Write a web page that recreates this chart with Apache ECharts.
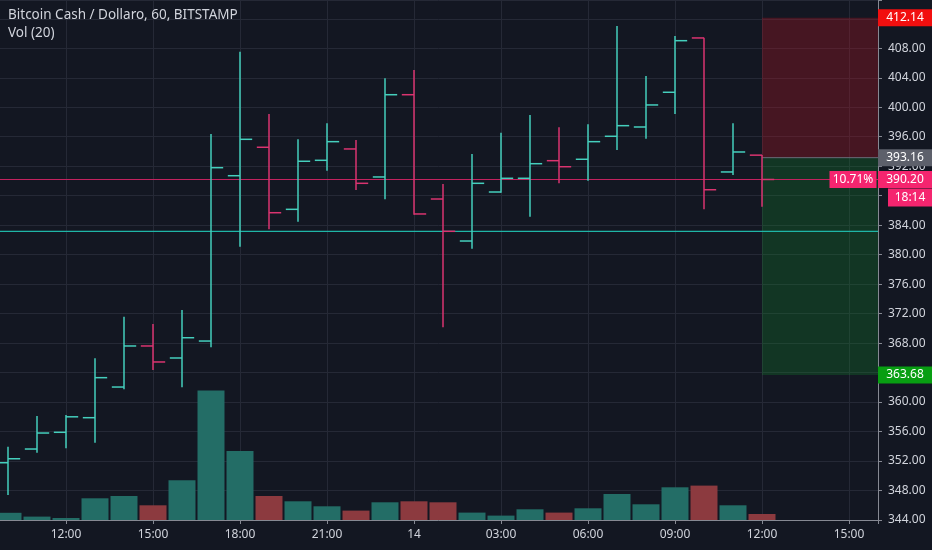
<!DOCTYPE html>
<html>
<head>
<meta charset="utf-8">
<script src="https://cdn.jsdelivr.net/npm/echarts/dist/echarts.min.js"></script>
<style>
  html, body { margin: 0; padding: 0; background: #131722; }
  #chart { width: 932px; height: 550px; }
</style>
</head>
<body>
<div id="chart"></div>
<script>
// Hours counted from 00:00 of the 13th (bar timestamps, 60-minute bars)
const hours  = [10,11,12,13,14,15,16,17,18,19,20,21,22,23,24,25,26,27,28,29,30,31,32,33,34,35,36];
const opens  = [351.77,353.63,355.90,357.88,362.04,367.61,365.98,368.28,390.71,394.57,386.15,392.80,394.34,390.54,401.70,387.55,381.85,388.50,390.36,392.75,392.94,396.06,397.32,402.03,409.40,391.22,393.50];
const highs  = [353.94,358.11,358.24,365.94,371.58,370.59,372.49,396.37,407.54,399.09,395.65,397.82,395.56,403.93,405.06,389.59,393.66,396.55,398.95,397.28,397.69,411.03,404.24,409.67,409.44,397.82,393.52];
const lows   = [347.39,353.13,353.73,354.49,361.73,364.35,362.00,367.43,381.08,383.44,384.47,391.39,388.77,387.51,385.40,370.14,380.81,388.41,385.15,389.68,390.04,394.20,395.73,399.09,386.15,390.81,386.51];
const closes = [352.31,355.80,358.00,363.31,367.61,365.44,368.73,391.80,395.65,385.69,392.67,395.33,389.68,401.70,385.52,383.17,389.68,390.36,392.34,391.93,395.33,397.50,400.31,409.03,388.81,393.93,390.20];
const volumes = [72,34,20,217,240,147,397,1294,690,240,187,137,94,177,187,177,74,44,107,74,117,260,157,327,344,147,60];

const startDay = 13;
const stopPrice = 412.14;
const entryPrice = 393.16;
const targetPrice = 363.68;
const lastPrice = 390.20;
const levelLine = 383.17;
const positionStart = 36;
const pctText = '10.71%';
const countdownText = '18:14';
const titleText = 'Bitcoin Cash / Dollaro, 60, BITSTAMP';
const subText = 'Vol (20)';

const UP = '#45cfbd';
const DOWN = '#da3470';
const VUP = '#236d66';
const VDOWN = '#8c3a3f';
const TXT = '#d1d4dc';
const GRID = '#252936';
const AXIS = '#868993';

const xMin = 9, xMax = 40;

const ohlc = hours.map((h, i) => [h, opens[i], closes[i], lows[i], highs[i]]);
const vol = hours.map((h, i) => ({
  value: [h, volumes[i]],
  itemStyle: { color: closes[i] >= opens[i] ? VUP : VDOWN }
}));

function fmtHour(v) {
  if (v % 3 !== 0 || v >= xMax) return '';
  const hod = v % 24;
  if (hod === 0) return String(startDay + Math.floor(v / 24));
  return (hod < 10 ? '0' : '') + hod + ':00';
}

function priceTag(price, text, color, size, offset) {
  return {
    coord: [xMax, price],
    symbol: 'rect',
    symbolSize: size,
    symbolOffset: offset,
    itemStyle: { color: color },
    label: { show: true, position: 'inside', formatter: text, color: '#ffffff', fontSize: 12 }
  };
}

// horizontal level drawn as a two-point line series
function levelSeries(price, x0, color, width) {
  return {
    type: 'line', z: 2, silent: true, showSymbol: false, symbol: 'none',
    data: [[x0, price], [xMax, price]],
    lineStyle: { color: color, width: width, type: 'solid' },
    itemStyle: { color: color },
    emphasis: { disabled: true }
  };
}

const chart = echarts.init(document.getElementById('chart'));
chart.setOption({
  backgroundColor: '#131722',
  animation: false,
  textStyle: { fontFamily: 'Noto Sans, sans-serif' },
  title: {
    text: titleText,
    subtext: subText,
    left: 8, top: 8, padding: 0, itemGap: 4,
    textStyle: { fontSize: 13.5, fontWeight: 'normal', color: TXT },
    subtextStyle: { fontSize: 13.5, color: TXT }
  },
  grid: { left: -21, right: 54, top: 0, bottom: 30, containLabel: false, outerBoundsMode: 'none' },
  xAxis: {
    type: 'value', min: xMin, max: xMax, interval: 3,
    axisLine: { show: true, lineStyle: { color: AXIS } },
    axisTick: { show: true, length: 4, lineStyle: { color: AXIS } },
    axisLabel: { color: TXT, fontSize: 12, margin: 9, formatter: fmtHour },
    splitLine: { show: true, lineStyle: { color: GRID } }
  },
  yAxis: [
    {
      type: 'value', position: 'right', min: 344, max: 414.55, interval: 4,
      axisLine: { show: true, lineStyle: { color: AXIS } },
      axisTick: { show: true, length: 4, lineStyle: { color: AXIS } },
      axisLabel: { color: TXT, fontSize: 12, margin: 10,
        formatter: v => (Math.abs(v % 4) < 1e-6 ? v.toFixed(2) : '') },
      splitLine: { show: true, lineStyle: { color: GRID } }
    },
    { type: 'value', min: 0, max: 5200, show: false, splitLine: { show: false } }
  ],
  series: [
    {
      type: 'bar', yAxisIndex: 1, data: vol, barWidth: 27, z: 1
    },
    levelSeries(levelLine, xMin, '#1fb5a6', 1.3),
    levelSeries(lastPrice, xMin, '#c2225f', 1.2),
    levelSeries(entryPrice, positionStart, '#6a6d78', 1),
    {
      type: 'custom', z: 3, clip: false,
      data: ohlc,
      encode: { x: 0, y: [1, 2, 3, 4] },
      renderItem: function (params, api) {
        const x = api.value(0);
        const o = api.coord([x, api.value(1)]);
        const c = api.coord([x, api.value(2)]);
        const l = api.coord([x, api.value(3)]);
        const h = api.coord([x, api.value(4)]);
        const w = api.size([1, 0])[0] * 0.42;
        const color = api.value(2) >= api.value(1) ? UP : DOWN;
        const style = { stroke: color, lineWidth: 1.5 };
        return {
          type: 'group',
          children: [
            { type: 'line', shape: { x1: h[0], y1: h[1], x2: l[0], y2: l[1] }, style: style },
            { type: 'line', shape: { x1: o[0] - w, y1: o[1], x2: o[0], y2: o[1] }, style: style },
            { type: 'line', shape: { x1: c[0], y1: c[1], x2: c[0] + w, y2: c[1] }, style: style }
          ]
        };
      },
      markArea: {
        silent: true,
        data: [
          [{ coord: [positionStart, stopPrice], itemStyle: { color: 'rgba(190,20,35,0.30)' } }, { coord: [xMax, entryPrice] }],
          [{ coord: [positionStart, entryPrice], itemStyle: { color: 'rgba(20,140,45,0.27)' } }, { coord: [xMax, targetPrice] }]
        ]
      },
      markPoint: {
        silent: true,
        data: [
          priceTag(stopPrice, stopPrice.toFixed(2), '#f20f0f', [54, 17], [27, 0]),
          priceTag(entryPrice, entryPrice.toFixed(2), '#5d606b', [54, 17], [27, 0]),
          priceTag(lastPrice, lastPrice.toFixed(2), '#f5256f', [54, 17], [27, 0]),
          priceTag(lastPrice, countdownText, '#f5256f', [44, 18], [32, 18]),
          priceTag(lastPrice, pctText, '#f5256f', [47, 17], [-25, 0]),
          priceTag(targetPrice, targetPrice.toFixed(2), '#089e12', [54, 17], [27, 0])
        ]
      }
    }
  ]
});
</script>
</body>
</html>
